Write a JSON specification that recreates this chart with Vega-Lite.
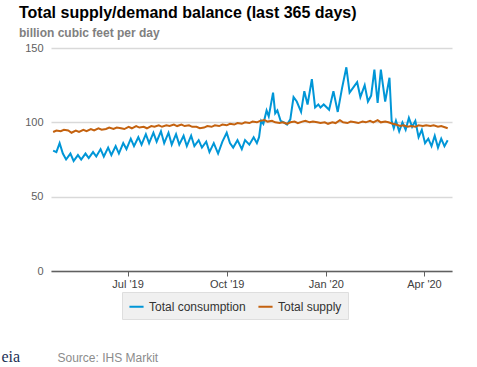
{
  "$schema": "https://vega.github.io/schema/vega-lite/v6.json",
  "width": 401,
  "height": 223,
  "autosize": "none",
  "padding": {"left": 51, "top": 48, "right": 25, "bottom": 96},
  "title": {
    "text": "Total supply/demand balance (last 365 days)",
    "subtitle": "billion cubic feet per day",
    "anchor": "start",
    "frame": "group",
    "dx": -32,
    "offset": 3,
    "font": "Liberation Sans",
    "fontSize": 16,
    "fontWeight": "bold",
    "color": "#000000",
    "subtitleFont": "Liberation Sans",
    "subtitleFontSize": 12,
    "subtitleFontWeight": "bold",
    "subtitleColor": "#808080",
    "subtitlePadding": 7
  },
  "data": {
    "values": [
      {"d": "2019-04-23", "s": "Total consumption", "v": 81},
      {"d": "2019-04-26", "s": "Total consumption", "v": 80},
      {"d": "2019-04-29", "s": "Total consumption", "v": 86},
      {"d": "2019-05-02", "s": "Total consumption", "v": 79},
      {"d": "2019-05-05", "s": "Total consumption", "v": 75},
      {"d": "2019-05-09", "s": "Total consumption", "v": 79},
      {"d": "2019-05-12", "s": "Total consumption", "v": 74},
      {"d": "2019-05-16", "s": "Total consumption", "v": 78},
      {"d": "2019-05-19", "s": "Total consumption", "v": 75},
      {"d": "2019-05-23", "s": "Total consumption", "v": 79},
      {"d": "2019-05-26", "s": "Total consumption", "v": 76},
      {"d": "2019-05-30", "s": "Total consumption", "v": 80},
      {"d": "2019-06-02", "s": "Total consumption", "v": 77},
      {"d": "2019-06-06", "s": "Total consumption", "v": 82},
      {"d": "2019-06-09", "s": "Total consumption", "v": 77},
      {"d": "2019-06-13", "s": "Total consumption", "v": 83},
      {"d": "2019-06-16", "s": "Total consumption", "v": 78},
      {"d": "2019-06-20", "s": "Total consumption", "v": 84},
      {"d": "2019-06-23", "s": "Total consumption", "v": 79},
      {"d": "2019-06-27", "s": "Total consumption", "v": 86},
      {"d": "2019-06-30", "s": "Total consumption", "v": 82},
      {"d": "2019-07-04", "s": "Total consumption", "v": 89},
      {"d": "2019-07-07", "s": "Total consumption", "v": 84},
      {"d": "2019-07-11", "s": "Total consumption", "v": 90},
      {"d": "2019-07-14", "s": "Total consumption", "v": 85},
      {"d": "2019-07-18", "s": "Total consumption", "v": 92},
      {"d": "2019-07-21", "s": "Total consumption", "v": 86},
      {"d": "2019-07-25", "s": "Total consumption", "v": 93},
      {"d": "2019-07-28", "s": "Total consumption", "v": 87},
      {"d": "2019-08-01", "s": "Total consumption", "v": 94},
      {"d": "2019-08-04", "s": "Total consumption", "v": 86},
      {"d": "2019-08-08", "s": "Total consumption", "v": 93},
      {"d": "2019-08-11", "s": "Total consumption", "v": 85},
      {"d": "2019-08-15", "s": "Total consumption", "v": 92},
      {"d": "2019-08-18", "s": "Total consumption", "v": 85},
      {"d": "2019-08-22", "s": "Total consumption", "v": 91},
      {"d": "2019-08-25", "s": "Total consumption", "v": 84},
      {"d": "2019-08-29", "s": "Total consumption", "v": 91},
      {"d": "2019-09-01", "s": "Total consumption", "v": 84},
      {"d": "2019-09-05", "s": "Total consumption", "v": 88},
      {"d": "2019-09-08", "s": "Total consumption", "v": 83},
      {"d": "2019-09-12", "s": "Total consumption", "v": 87},
      {"d": "2019-09-15", "s": "Total consumption", "v": 80},
      {"d": "2019-09-19", "s": "Total consumption", "v": 86},
      {"d": "2019-09-23", "s": "Total consumption", "v": 79},
      {"d": "2019-09-27", "s": "Total consumption", "v": 87},
      {"d": "2019-10-01", "s": "Total consumption", "v": 93},
      {"d": "2019-10-04", "s": "Total consumption", "v": 86},
      {"d": "2019-10-07", "s": "Total consumption", "v": 83},
      {"d": "2019-10-11", "s": "Total consumption", "v": 88},
      {"d": "2019-10-15", "s": "Total consumption", "v": 82},
      {"d": "2019-10-18", "s": "Total consumption", "v": 88},
      {"d": "2019-10-22", "s": "Total consumption", "v": 85},
      {"d": "2019-10-26", "s": "Total consumption", "v": 90},
      {"d": "2019-10-29", "s": "Total consumption", "v": 86},
      {"d": "2019-10-31", "s": "Total consumption", "v": 90},
      {"d": "2019-11-02", "s": "Total consumption", "v": 101},
      {"d": "2019-11-04", "s": "Total consumption", "v": 99},
      {"d": "2019-11-07", "s": "Total consumption", "v": 108},
      {"d": "2019-11-09", "s": "Total consumption", "v": 104},
      {"d": "2019-11-13", "s": "Total consumption", "v": 120},
      {"d": "2019-11-15", "s": "Total consumption", "v": 106},
      {"d": "2019-11-17", "s": "Total consumption", "v": 108},
      {"d": "2019-11-20", "s": "Total consumption", "v": 101},
      {"d": "2019-11-23", "s": "Total consumption", "v": 100},
      {"d": "2019-11-26", "s": "Total consumption", "v": 98.5},
      {"d": "2019-11-29", "s": "Total consumption", "v": 102},
      {"d": "2019-12-02", "s": "Total consumption", "v": 117},
      {"d": "2019-12-05", "s": "Total consumption", "v": 114},
      {"d": "2019-12-09", "s": "Total consumption", "v": 107},
      {"d": "2019-12-12", "s": "Total consumption", "v": 121},
      {"d": "2019-12-15", "s": "Total consumption", "v": 112},
      {"d": "2019-12-19", "s": "Total consumption", "v": 129},
      {"d": "2019-12-22", "s": "Total consumption", "v": 110},
      {"d": "2019-12-25", "s": "Total consumption", "v": 112},
      {"d": "2019-12-27", "s": "Total consumption", "v": 110},
      {"d": "2019-12-30", "s": "Total consumption", "v": 112},
      {"d": "2020-01-04", "s": "Total consumption", "v": 108.5},
      {"d": "2020-01-08", "s": "Total consumption", "v": 121},
      {"d": "2020-01-12", "s": "Total consumption", "v": 107},
      {"d": "2020-01-16", "s": "Total consumption", "v": 123},
      {"d": "2020-01-20", "s": "Total consumption", "v": 137},
      {"d": "2020-01-23", "s": "Total consumption", "v": 120},
      {"d": "2020-01-27", "s": "Total consumption", "v": 124},
      {"d": "2020-01-30", "s": "Total consumption", "v": 127},
      {"d": "2020-02-02", "s": "Total consumption", "v": 117},
      {"d": "2020-02-06", "s": "Total consumption", "v": 125},
      {"d": "2020-02-09", "s": "Total consumption", "v": 114},
      {"d": "2020-02-12", "s": "Total consumption", "v": 118},
      {"d": "2020-02-15", "s": "Total consumption", "v": 135.5},
      {"d": "2020-02-18", "s": "Total consumption", "v": 113},
      {"d": "2020-02-21", "s": "Total consumption", "v": 135.5},
      {"d": "2020-02-25", "s": "Total consumption", "v": 114},
      {"d": "2020-02-29", "s": "Total consumption", "v": 130},
      {"d": "2020-03-02", "s": "Total consumption", "v": 101},
      {"d": "2020-03-04", "s": "Total consumption", "v": 96},
      {"d": "2020-03-06", "s": "Total consumption", "v": 101},
      {"d": "2020-03-09", "s": "Total consumption", "v": 94},
      {"d": "2020-03-12", "s": "Total consumption", "v": 100},
      {"d": "2020-03-15", "s": "Total consumption", "v": 95},
      {"d": "2020-03-18", "s": "Total consumption", "v": 103},
      {"d": "2020-03-21", "s": "Total consumption", "v": 97},
      {"d": "2020-03-24", "s": "Total consumption", "v": 101},
      {"d": "2020-03-27", "s": "Total consumption", "v": 90},
      {"d": "2020-03-30", "s": "Total consumption", "v": 95},
      {"d": "2020-04-02", "s": "Total consumption", "v": 86},
      {"d": "2020-04-05", "s": "Total consumption", "v": 89},
      {"d": "2020-04-08", "s": "Total consumption", "v": 84},
      {"d": "2020-04-11", "s": "Total consumption", "v": 91},
      {"d": "2020-04-14", "s": "Total consumption", "v": 83},
      {"d": "2020-04-17", "s": "Total consumption", "v": 89},
      {"d": "2020-04-20", "s": "Total consumption", "v": 84},
      {"d": "2020-04-23", "s": "Total consumption", "v": 88},
      {"d": "2019-04-23", "s": "Total supply", "v": 93.5},
      {"d": "2019-04-26", "s": "Total supply", "v": 94.5},
      {"d": "2019-04-30", "s": "Total supply", "v": 94},
      {"d": "2019-05-03", "s": "Total supply", "v": 95},
      {"d": "2019-05-07", "s": "Total supply", "v": 94.5},
      {"d": "2019-05-10", "s": "Total supply", "v": 93},
      {"d": "2019-05-14", "s": "Total supply", "v": 94.5},
      {"d": "2019-05-17", "s": "Total supply", "v": 93.5},
      {"d": "2019-05-21", "s": "Total supply", "v": 95},
      {"d": "2019-05-24", "s": "Total supply", "v": 94},
      {"d": "2019-05-28", "s": "Total supply", "v": 95.5},
      {"d": "2019-05-31", "s": "Total supply", "v": 94.5},
      {"d": "2019-06-04", "s": "Total supply", "v": 96},
      {"d": "2019-06-07", "s": "Total supply", "v": 95},
      {"d": "2019-06-11", "s": "Total supply", "v": 95.5},
      {"d": "2019-06-14", "s": "Total supply", "v": 96.5},
      {"d": "2019-06-18", "s": "Total supply", "v": 95.5},
      {"d": "2019-06-21", "s": "Total supply", "v": 96.5},
      {"d": "2019-06-25", "s": "Total supply", "v": 96},
      {"d": "2019-06-28", "s": "Total supply", "v": 95.5},
      {"d": "2019-07-02", "s": "Total supply", "v": 97},
      {"d": "2019-07-05", "s": "Total supply", "v": 96},
      {"d": "2019-07-09", "s": "Total supply", "v": 97.5},
      {"d": "2019-07-12", "s": "Total supply", "v": 96.5},
      {"d": "2019-07-16", "s": "Total supply", "v": 97},
      {"d": "2019-07-19", "s": "Total supply", "v": 96},
      {"d": "2019-07-23", "s": "Total supply", "v": 97.5},
      {"d": "2019-07-26", "s": "Total supply", "v": 97},
      {"d": "2019-07-30", "s": "Total supply", "v": 98},
      {"d": "2019-08-02", "s": "Total supply", "v": 97},
      {"d": "2019-08-06", "s": "Total supply", "v": 98},
      {"d": "2019-08-09", "s": "Total supply", "v": 97.5},
      {"d": "2019-08-13", "s": "Total supply", "v": 98.5},
      {"d": "2019-08-16", "s": "Total supply", "v": 97.5},
      {"d": "2019-08-20", "s": "Total supply", "v": 98.5},
      {"d": "2019-08-23", "s": "Total supply", "v": 97.5},
      {"d": "2019-08-27", "s": "Total supply", "v": 98},
      {"d": "2019-08-30", "s": "Total supply", "v": 97},
      {"d": "2019-09-03", "s": "Total supply", "v": 97},
      {"d": "2019-09-06", "s": "Total supply", "v": 96},
      {"d": "2019-09-10", "s": "Total supply", "v": 96.5},
      {"d": "2019-09-13", "s": "Total supply", "v": 97.5},
      {"d": "2019-09-17", "s": "Total supply", "v": 97},
      {"d": "2019-09-20", "s": "Total supply", "v": 98},
      {"d": "2019-09-24", "s": "Total supply", "v": 97.5},
      {"d": "2019-09-27", "s": "Total supply", "v": 98.5},
      {"d": "2019-10-01", "s": "Total supply", "v": 98},
      {"d": "2019-10-04", "s": "Total supply", "v": 99},
      {"d": "2019-10-08", "s": "Total supply", "v": 98.5},
      {"d": "2019-10-11", "s": "Total supply", "v": 99.5},
      {"d": "2019-10-15", "s": "Total supply", "v": 99},
      {"d": "2019-10-18", "s": "Total supply", "v": 100},
      {"d": "2019-10-22", "s": "Total supply", "v": 99.5},
      {"d": "2019-10-25", "s": "Total supply", "v": 100.5},
      {"d": "2019-10-29", "s": "Total supply", "v": 100},
      {"d": "2019-11-01", "s": "Total supply", "v": 101},
      {"d": "2019-11-05", "s": "Total supply", "v": 101.5},
      {"d": "2019-11-08", "s": "Total supply", "v": 100.5},
      {"d": "2019-11-12", "s": "Total supply", "v": 101},
      {"d": "2019-11-15", "s": "Total supply", "v": 100},
      {"d": "2019-11-19", "s": "Total supply", "v": 99.5},
      {"d": "2019-11-22", "s": "Total supply", "v": 100},
      {"d": "2019-11-26", "s": "Total supply", "v": 99},
      {"d": "2019-11-29", "s": "Total supply", "v": 100},
      {"d": "2019-12-03", "s": "Total supply", "v": 100.5},
      {"d": "2019-12-06", "s": "Total supply", "v": 99.5},
      {"d": "2019-12-10", "s": "Total supply", "v": 100.5},
      {"d": "2019-12-13", "s": "Total supply", "v": 101},
      {"d": "2019-12-17", "s": "Total supply", "v": 100},
      {"d": "2019-12-20", "s": "Total supply", "v": 100.5},
      {"d": "2019-12-24", "s": "Total supply", "v": 100},
      {"d": "2019-12-27", "s": "Total supply", "v": 99.5},
      {"d": "2019-12-31", "s": "Total supply", "v": 100},
      {"d": "2020-01-03", "s": "Total supply", "v": 99},
      {"d": "2020-01-07", "s": "Total supply", "v": 100},
      {"d": "2020-01-10", "s": "Total supply", "v": 99.5},
      {"d": "2020-01-14", "s": "Total supply", "v": 101.5},
      {"d": "2020-01-17", "s": "Total supply", "v": 100},
      {"d": "2020-01-21", "s": "Total supply", "v": 99.5},
      {"d": "2020-01-24", "s": "Total supply", "v": 100.5},
      {"d": "2020-01-28", "s": "Total supply", "v": 100},
      {"d": "2020-01-31", "s": "Total supply", "v": 99.5},
      {"d": "2020-02-04", "s": "Total supply", "v": 100.5},
      {"d": "2020-02-07", "s": "Total supply", "v": 100},
      {"d": "2020-02-11", "s": "Total supply", "v": 101},
      {"d": "2020-02-14", "s": "Total supply", "v": 100},
      {"d": "2020-02-18", "s": "Total supply", "v": 101.5},
      {"d": "2020-02-21", "s": "Total supply", "v": 100},
      {"d": "2020-02-25", "s": "Total supply", "v": 100.5},
      {"d": "2020-02-28", "s": "Total supply", "v": 100},
      {"d": "2020-03-03", "s": "Total supply", "v": 99},
      {"d": "2020-03-06", "s": "Total supply", "v": 98.5},
      {"d": "2020-03-10", "s": "Total supply", "v": 97.5},
      {"d": "2020-03-13", "s": "Total supply", "v": 98},
      {"d": "2020-03-17", "s": "Total supply", "v": 97},
      {"d": "2020-03-20", "s": "Total supply", "v": 97.5},
      {"d": "2020-03-24", "s": "Total supply", "v": 97},
      {"d": "2020-03-27", "s": "Total supply", "v": 98},
      {"d": "2020-03-31", "s": "Total supply", "v": 97.5},
      {"d": "2020-04-03", "s": "Total supply", "v": 98},
      {"d": "2020-04-07", "s": "Total supply", "v": 97.5},
      {"d": "2020-04-10", "s": "Total supply", "v": 98},
      {"d": "2020-04-14", "s": "Total supply", "v": 97},
      {"d": "2020-04-17", "s": "Total supply", "v": 97.5},
      {"d": "2020-04-21", "s": "Total supply", "v": 96.5},
      {"d": "2020-04-23", "s": "Total supply", "v": 96}
    ]
  },
  "mark": {"type": "line", "strokeWidth": 2, "interpolate": "linear"},
  "encoding": {
    "x": {
      "field": "d",
      "type": "temporal",
      "scale": {"domain": ["2019-04-21", "2020-04-27"]},
      "axis": {
        "tickCount": {"interval": "month", "step": 3},
        "format": "%b '%y",
        "grid": false,
        "domainColor": "#606060",
        "domainWidth": 1.5,
        "tickColor": "#606060",
        "tickSize": 5,
        "labelPadding": 2,
        "labelFont": "Liberation Sans",
        "labelFontSize": 11,
        "labelColor": "#404040",
        "title": "Source: IHS Markit",
        "titleX": 6,
        "titleY": 90,
        "titleAlign": "left",
        "titleBaseline": "alphabetic",
        "titleFont": "Liberation Sans",
        "titleFontSize": 12,
        "titleFontWeight": "normal",
        "titleColor": "#8c8c8c"
      }
    },
    "y": {
      "field": "v",
      "type": "quantitative",
      "scale": {"domain": [0, 150], "nice": false},
      "axis": {
        "values": [0, 50, 100, 150],
        "domain": false,
        "ticks": false,
        "gridColor": "#d9d9d9",
        "gridWidth": 1.5,
        "labelPadding": 8,
        "labelFont": "Liberation Sans",
        "labelFontSize": 11,
        "labelColor": "#606060",
        "title": "eia",
        "titleAngle": 0,
        "titleX": -50,
        "titleY": 313,
        "titleAlign": "left",
        "titleBaseline": "alphabetic",
        "titleFont": "Liberation Serif",
        "titleFontSize": 16,
        "titleFontWeight": "normal",
        "titleColor": "#1b2f55"
      }
    },
    "color": {
      "field": "s",
      "type": "nominal",
      "scale": {"domain": ["Total consumption", "Total supply"], "range": ["#0096d7", "#c4620f"]},
      "legend": {
        "title": null,
        "orient": "none",
        "legendX": 71,
        "legendY": 244,
        "direction": "horizontal",
        "fillColor": "#f0f0f0",
        "strokeColor": "#dedede",
        "padding": 6,
        "symbolType": "stroke",
        "symbolStrokeWidth": 2,
        "symbolSize": 200,
        "columnPadding": 8,
        "labelFont": "Liberation Sans",
        "labelFontSize": 12,
        "labelColor": "#333333"
      }
    }
  },
  "config": {"view": {"stroke": null}, "font": "Liberation Sans"}
}
